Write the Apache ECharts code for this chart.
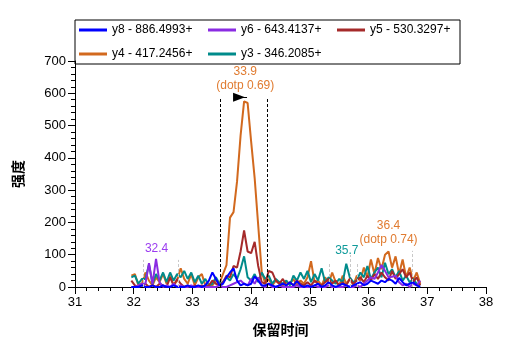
<!DOCTYPE html>
<html>
<head>
<meta charset="utf-8">
<script src="https://cdn.jsdelivr.net/npm/echarts@6/dist/echarts.min.js"></script>
<style>
  html, body { margin: 0; padding: 0; background: #fff; }
  #main { width: 507px; height: 351px; }
</style>
</head>
<body>
<div id="main"></div>
<script>
var times = [
  31.96, 32.02, 32.08, 32.14, 32.20, 32.26, 32.32, 32.38, 32.44, 32.50,
  32.56, 32.62, 32.68, 32.74, 32.80, 32.86, 32.92, 32.98, 33.04, 33.10,
  33.16, 33.22, 33.28, 33.34, 33.40, 33.46, 33.52, 33.58, 33.64, 33.70,
  33.76, 33.82, 33.88, 33.94, 34.00, 34.06, 34.12, 34.18, 34.24, 34.30,
  34.36, 34.42, 34.48, 34.54, 34.60, 34.66, 34.72, 34.78, 34.84, 34.90,
  34.96, 35.02, 35.08, 35.14, 35.20, 35.26, 35.32, 35.38, 35.44, 35.50,
  35.56, 35.62, 35.68, 35.74, 35.80, 35.86, 35.92, 35.98, 36.04, 36.10,
  36.16, 36.22, 36.28, 36.34, 36.40, 36.46, 36.52, 36.58, 36.64, 36.70,
  36.76, 36.82, 36.88
];

var y4 = [
  35, 40, 5, 10, 45, 20, 5, 30, 15, 40,
  10, 35, 5, 20, 58, 25, 10, 40, 5, 30,
  40, 5, 0, 5, 20, 10, 40, 68, 215, 232,
  327, 469, 575, 570, 450, 337, 192, 47, 10, 25,
  5, 20, 10, 5, 15, 10, 25, 5, 20, 10,
  30, 80, 15, 20, 5, 30, 10, 45, 15, 5,
  35, 10, 25, 5, 35, 20, 60, 30, 85, 40,
  90, 55, 100, 110, 60, 95, 40, 85, 30, 60,
  20, 45, 10
];
var y3 = [
  30, 35, 10, 25, 25, 70, 10, 40, 20, 45,
  15, 45, 20, 40, 30, 50, 25, 45, 15, 35,
  10, 25, 5, 10, 30, 10, 15, 30, 20, 40,
  25, 55, 95, 30, 20, 40, 15, 45, 25, 35,
  10, 25, 15, 10, 20, 5, 35, 20, 45, 25,
  50, 15, 40, 20, 58, 15, 30, 20, 10, 25,
  15, 72, 30, 15, 20, 45, 30, 65, 25, 45,
  60, 30, 75, 40, 55, 30, 50, 20, 35, 15,
  25, 10, 5
];
var y5 = [
  20, 5, 0, 5, 10, 0, 5, 0, 10, 5,
  0, 30, 5, 25, 10, 0, 5, 0, 5, 0,
  5, 0, 5, 20, 10, 5, 15, 35, 30, 65,
  60, 110, 175, 110, 105, 140, 65, 15, 10, 50,
  45, 20, 10, 25, 5, 15, 5, 20, 10, 5,
  15, 5, 20, 10, 5, 15, 25, 10, 20, 5,
  15, 5, 25, 10, 20, 30, 15, 35, 20, 40,
  25, 45, 30, 20, 50, 25, 40, 55, 30, 45,
  15, 30, 5
];
var y6 = [
  0, 0, 5, 10, 10, 74, 10, 87, 15, 0,
  5, 0, 10, 0, 5, 0, 0, 5, 0, 0,
  0, 0, 0, 0, 0, 5, 0, 0, 5, 10,
  15, 20, 10, 5, 25, 10, 30, 5, 0, 10,
  0, 0, 5, 0, 0, 0, 0, 5, 0, 0,
  0, 0, 5, 0, 0, 0, 5, 0, 0, 0,
  0, 5, 0, 0, 5, 0, 10, 20, 30, 25,
  45, 68, 50, 30, 32, 35, 15, 5, 10, 0,
  10, 5, 20
];
var y8 = [
  0, 0, 0, 5, 0, 0, 5, 0, 0, 5,
  0, 0, 5, 0, 0, 0, 5, 0, 0, 5,
  0, 5, 20, 45, 25, 5, 10, 30, 45, 58,
  20, 5, 10, 5, 10, 33, 20, 5, 5, 10,
  5, 0, 5, 10, 5, 15, 5, 18, 5, 0,
  5, 0, 5, 10, 0, 5, 15, 5, 0, 5,
  10, 5, 0, 5, 10, 15, 5, 10, 20, 15,
  10, 20, 15, 25, 20, 10, 28, 15, 5, 10,
  15, 5, 0
];

var names = ['y8 - 886.4993+', 'y6 - 643.4137+', 'y5 - 530.3297+', 'y4 - 417.2456+', 'y3 - 346.2085+'];
var colors = { y8: '#0000ff', y6: '#8a2be2', y5: '#a52a2a', y4: '#d2691e', y3: '#008b8b' };
var labelColors = { y6: '#9b3cf0', y4: '#e07b30', y3: '#0f9a9a' };

// peak annotations: [time, height]
var mainBounds = [[33.47, 585], [34.27, 585]];
var greyBounds = [[32.17, 84], [32.76, 84], [35.33, 73], [35.68, 99], [35.80, 73], [36.75, 112]];
var peakLabels = [
  { series: 'y4', t: 33.9, v: 600, text: '33.9\n(dotp 0.69)' },
  { series: 'y6', t: 32.39, v: 96, text: '32.4' },
  { series: 'y3', t: 35.63, v: 90, text: '35.7' },
  { series: 'y4', t: 36.34, v: 122, text: '36.4\n(dotp 0.74)' }
];
var arrowPos = [33.76, 588];

var fontEn = 'Liberation Sans, Arial, sans-serif';
var fontCn = 'Noto Sans CJK SC, sans-serif';

function pairs(arr) {
  return times.map(function (t, i) { return [t, arr[i]]; });
}

function labelsFor(key) {
  return peakLabels.filter(function (p) { return p.series === key; }).map(function (p) {
    return {
      coord: [p.t, p.v],
      symbol: 'circle',
      symbolSize: 1,
      itemStyle: { color: 'rgba(0,0,0,0)' },
      label: {
        show: true, position: 'top', distance: 0, formatter: p.text,
        color: labelColors[key], fontSize: 12, lineHeight: 14, fontFamily: fontEn
      }
    };
  });
}

function makeSeries(key, name, arr) {
  return {
    name: name,
    type: 'line',
    data: pairs(arr),
    showSymbol: false,
    animation: false,
    lineStyle: { width: 2, color: colors[key] },
    itemStyle: { color: colors[key] },
    markPoint: { data: labelsFor(key), animation: false, silent: true }
  };
}

var series = [
  makeSeries('y4', names[3], y4),
  makeSeries('y3', names[4], y3),
  makeSeries('y5', names[2], y5),
  makeSeries('y6', names[1], y6),
  makeSeries('y8', names[0], y8)
];

// boundary lines and arrow on the y4 series
series[0].markLine = {
  silent: true, symbol: 'none', animation: false,
  label: { show: false },
  data: mainBounds.map(function (b) {
    return [{ coord: [b[0], 0], lineStyle: { color: '#000', type: [3, 2], width: 1 } }, { coord: [b[0], b[1]] }];
  }).concat(greyBounds.map(function (b) {
    return [{ coord: [b[0], 0], lineStyle: { color: '#c8c8c8', type: [3, 2], width: 1 } }, { coord: [b[0], b[1]] }];
  })).concat([[
    { coord: [arrowPos[0], arrowPos[1]], lineStyle: { color: '#000', type: 'solid', width: 1 } },
    { coord: [arrowPos[0] + 0.17, arrowPos[1]] }
  ]])
};
series[0].markPoint.data.push({
  coord: arrowPos, symbol: 'triangle', symbolSize: [9, 12], symbolRotate: -90,
  symbolOffset: [2, 0],
  itemStyle: { color: '#000' }, label: { show: false }
});

var chartDom = document.getElementById('main');
var myChart = echarts.init(chartDom);
var option = {
  animation: false,
  legend: {
    data: names,
    left: 75, top: 20,
    width: 380,
    padding: [3, 4, 3, 4],
    borderColor: '#000', borderWidth: 1,
    itemWidth: 28, itemHeight: 3, itemGap: 10,
    icon: 'rect',
    textStyle: { color: '#000', fontSize: 12, fontFamily: fontEn, width: 86, lineHeight: 14 }
  },
  grid: { left: 75, right: 21, top: 61, bottom: 64 },
  xAxis: {
    type: 'value', min: 31, max: 38, interval: 1,
    name: '保留时间', nameLocation: 'middle', nameGap: 36,
    nameTextStyle: { color: '#000', fontSize: 14, fontWeight: 'bold', fontFamily: fontCn },
    axisLine: { onZero: false, lineStyle: { color: '#000', width: 1 } },
    axisTick: { length: 7, lineStyle: { color: '#000' } },
    minorTick: { show: true, splitNumber: 5, length: 4, lineStyle: { color: '#000' } },
    axisLabel: { color: '#000', fontSize: 13, fontFamily: fontEn, margin: 9 },
    splitLine: { show: false }
  },
  yAxis: {
    type: 'value', min: 0, max: 700, interval: 100,
    name: '强度', nameLocation: 'middle', nameGap: 50, nameRotate: 90,
    nameTextStyle: { color: '#000', fontSize: 14, fontWeight: 'bold', fontFamily: fontCn },
    axisLine: { show: true, lineStyle: { color: '#000', width: 1 } },
    axisTick: { show: true, length: 7, lineStyle: { color: '#000' } },
    minorTick: { show: true, splitNumber: 5, length: 4, lineStyle: { color: '#000' } },
    axisLabel: { color: '#000', fontSize: 13, fontFamily: fontEn, margin: 9 },
    splitLine: { show: false }
  },
  series: series
};

option && myChart.setOption(option);
</script>
</body>
</html>
